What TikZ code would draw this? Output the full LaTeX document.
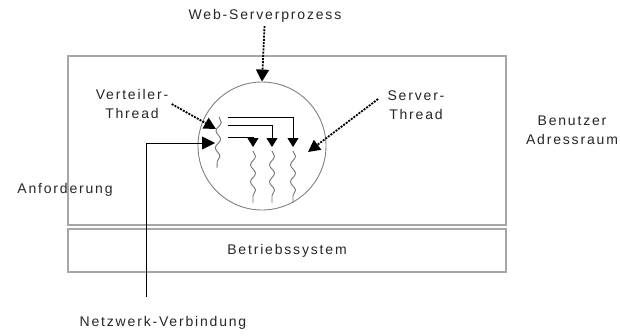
\documentclass[tikz,border=0pt]{standalone}
\usepackage{fontspec}
\setmainfont{Liberation Sans}[LetterSpace=13]
\usetikzlibrary{arrows.meta,decorations.pathmorphing}

\begin{document}
\begin{tikzpicture}[x=1pt,y=-1pt]
\useasboundingbox (0,0) rectangle (620,335);

\begin{scope}[every node/.style={rectangle,draw=black!35,line width=1.3pt,inner sep=0pt,
              font=\fontsize{14}{19}\selectfont,text=black!85}]
    \node (user) at (287,140.5) [minimum width=438pt,minimum height=169pt] {};
    \node (os) at (287,250.5) [minimum width=438pt,minimum height=43pt] {\raisebox{1pt}{Betriebssystem}};
\end{scope}

\node[circle,draw=black!50,line width=0.9pt,minimum size=128pt,inner sep=0pt] (proc) at (262,146) {};

\begin{scope}[every node/.style={font=\fontsize{14}{19}\selectfont,align=center,text=black!85}]
    \node (web) at (265,16) {Web-Serverprozess};
    \node (vt) at (132,104) {Verteiler-\\Thread};
    \node (st) at (416,105) {Server-\\Thread};
    \node (adr) at (572,130) {Benutzer\\Adressraum};
    \node (req) at (65,190) {Anforderung};
    \node (net) at (163,323) {Netzwerk-Verbindung};
\end{scope}

% ends of the connectors inside the process
\coordinate (vin) at (216,129);
\coordinate (sin) at (308,152);
\coordinate (ain) at (215,143);
\coordinate (netin) at (146,297);
\coordinate (d1) at (228,117);
\coordinate (d2) at (228,125);
\coordinate (d3) at (228,137);
\coordinate (s1) at (253,147);
\coordinate (s2) at (272,147);
\coordinate (s3) at (293,147);

% threads
\begin{scope}[draw=black!55,line width=0.9pt,
              decoration={snake,amplitude=2.5pt,segment length=17pt}]
    \draw[decorate] (219,117) -- (217,168);
    \draw[decorate] (s1) ++(0,4) -- ++(0,52);
    \draw[decorate] (s2) ++(0,4) -- ++(0,52);
    \draw[decorate] (s3) ++(0,4) -- ++(0,52);
\end{scope}

\begin{scope}[every edge/.style={draw=black,line width=1.8pt,dash pattern=on 2pt off 1.2pt}]
    \path [-{Triangle[length=12pt,width=13pt]}] (web) edge (proc.north);
    \path [-{Triangle[length=12pt,width=12pt]}] (vt.east) edge (vin);
    \path [-{Triangle[length=12pt,width=12pt]}] ([xshift=-6pt,yshift=6pt]st.west) edge (sin);
\end{scope}

\begin{scope}[line width=0.9pt]
    \draw [-{Triangle[length=13pt,width=13pt]}] (netin) |- (ain);
    \draw [-{Triangle[length=9pt,width=11pt]}] (d1) -| (s3);
    \draw [-{Triangle[length=9pt,width=11pt]}] (d2) -| (s2);
    \draw [-{Triangle[length=9pt,width=11pt]}] (d3) -| (s1);
\end{scope}
\end{tikzpicture}
\end{document}
